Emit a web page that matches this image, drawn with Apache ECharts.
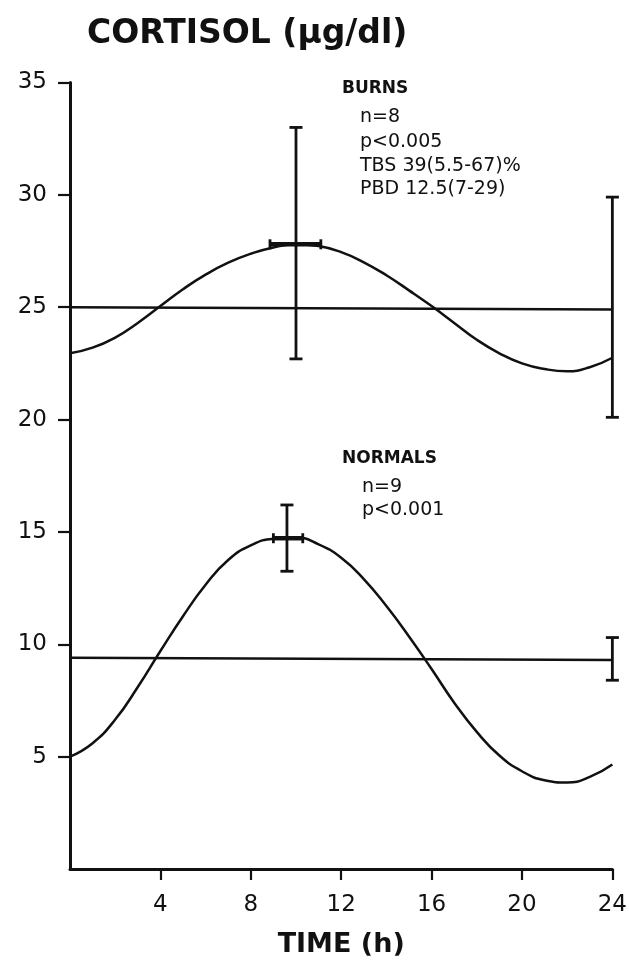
<!DOCTYPE html>
<html>
<head>
<meta charset="utf-8">
<script src="https://cdn.jsdelivr.net/npm/echarts@6/dist/echarts.min.js"></script>
<style>
  html, body { margin: 0; padding: 0; background: #fff; }
  #chart { width: 630px; height: 963px; }
</style>
</head>
<body>
<div id="chart"></div>
<script>
// hours of the day where the fitted curves were read
const hours = [0, 1, 2, 3, 4, 5, 6, 7, 8, 9, 10, 11, 12, 13, 14, 15, 16, 17, 18, 19, 20, 21, 22, 23, 24]

// fitted cosine curves (cortisol µg/dl)
const burnsFit = [22.95, 23.2, 23.65, 24.3, 25.05, 25.8, 26.45, 26.98, 27.38, 27.66, 27.8, 27.72, 27.45,
  27.0, 26.42, 25.75, 25.05, 24.3, 23.55, 22.95, 22.5, 22.25, 22.15, 22.33, 22.75]
const normalsFit = [5.0, 5.6, 6.65, 8.1, 9.7, 11.25, 12.65, 13.75, 14.4, 14.7, 14.75, 14.45, 13.85,
  12.9, 11.7, 10.35, 8.9, 7.4, 6.1, 5.05, 4.35, 3.95, 3.85, 4.1, 4.65]

// mesor lines: [start hour, end hour], [start value, end value]
const mesorHours = [0, 24]
const burnsMesor = [25.0, 24.9]
const normalsMesor = [9.4, 9.3]

// vertical error bars: [hour, low, high]
const verticalBars = [
  [10.0, 22.7, 33.0],
  [24, 20.1, 29.9],
  [9.6, 13.25, 16.2],
  [24, 8.4, 10.3]
]
// horizontal (acrophase) error bars: [value, from hour, to hour]
const horizontalBars = [
  [27.8, 8.85, 11.1],
  [14.72, 9.0, 10.3]
]

const xTicks = [4, 8, 12, 16, 20, 24]
const yTicks = [5, 10, 15, 20, 25, 30, 35]

const chart = echarts.init(document.getElementById('chart'))

const pairs = (xs, ys) => xs.map((x, i) => [x, ys[i]])
const ink = '#111'

const textLine = (text, left, y, size, bold) => ({
  type: 'text',
  left: left,
  top: y - size / 2 - 1,
  style: {
    text: text,
    fill: ink,
    font: (bold ? 'bold ' : '') + size + 'px "DejaVu Sans"'
  }
})

const option = {
  backgroundColor: '#fff',
  animation: false,
  title: {
    text: 'CORTISOL (µg/dl)',
    left: 82,
    top: 13,
    textStyle: { fontFamily: 'DejaVu Sans', fontWeight: 'bold', fontSize: 33, color: ink }
  },
  grid: { left: 70, right: 17, top: 82.5, bottom: 93.5 },
  xAxis: {
    type: 'value',
    min: 0,
    max: 24,
    interval: 4,
    name: 'TIME (h)',
    nameLocation: 'middle',
    nameGap: 62,
    nameTextStyle: { fontFamily: 'DejaVu Sans', fontWeight: 'bold', fontSize: 27, color: ink },
    axisLine: { lineStyle: { color: ink, width: 3 } },
    axisTick: { customValues: xTicks, length: 11, lineStyle: { color: ink, width: 2.2 } },
    axisLabel: { customValues: xTicks, margin: 25, fontFamily: 'DejaVu Sans', fontSize: 23, color: ink },
    splitLine: { show: false }
  },
  yAxis: {
    type: 'value',
    min: 0,
    max: 35,
    interval: 5,
    axisLine: { show: true, lineStyle: { color: ink, width: 3 } },
    axisTick: { show: true, customValues: yTicks, length: 12, lineStyle: { color: ink, width: 2.2 } },
    axisLabel: { customValues: yTicks, margin: 23, fontFamily: 'DejaVu Sans', fontSize: 23, color: ink },
    splitLine: { show: false }
  },
  graphic: [
    textLine('BURNS', 342, 90, 17, true),
    textLine('n=8', 360, 118, 19),
    textLine('p<0.005', 360, 143, 19),
    textLine('TBS 39(5.5-67)%', 360, 167, 19),
    textLine('PBD 12.5(7-29)', 360, 190, 19),
    textLine('NORMALS', 342, 460, 17, true),
    textLine('n=9', 362, 488, 19),
    textLine('p<0.001', 362, 511, 19)
  ],
  series: [
    {
      name: 'Burns fit',
      type: 'line',
      data: pairs(hours, burnsFit),
      smooth: true,
      symbol: 'none',
      lineStyle: { color: ink, width: 2.5 }
    },
    {
      name: 'Normals fit',
      type: 'line',
      data: pairs(hours, normalsFit),
      smooth: true,
      symbol: 'none',
      lineStyle: { color: ink, width: 2.5 }
    },
    {
      name: 'Burns mesor',
      type: 'line',
      data: pairs(mesorHours, burnsMesor),
      symbol: 'none',
      lineStyle: { color: ink, width: 2.6 }
    },
    {
      name: 'Normals mesor',
      type: 'line',
      data: pairs(mesorHours, normalsMesor),
      symbol: 'none',
      lineStyle: { color: ink, width: 2.6 }
    },
    {
      name: 'Amplitude bars',
      type: 'custom',
      data: verticalBars,
      clip: false,
      renderItem: (params, api) => {
        const lo = api.coord([api.value(0), api.value(1)])
        const hi = api.coord([api.value(0), api.value(2)])
        const cap = 6.5
        const style = { stroke: ink, lineWidth: 2.8 }
        return {
          type: 'group',
          children: [
            { type: 'line', shape: { x1: lo[0], y1: lo[1], x2: hi[0], y2: hi[1] }, style },
            { type: 'line', shape: { x1: lo[0] - cap, y1: lo[1], x2: lo[0] + cap, y2: lo[1] }, style },
            { type: 'line', shape: { x1: hi[0] - cap, y1: hi[1], x2: hi[0] + cap, y2: hi[1] }, style }
          ]
        }
      }
    },
    {
      name: 'Acrophase bars',
      type: 'custom',
      data: horizontalBars,
      clip: false,
      renderItem: (params, api) => {
        const a = api.coord([api.value(1), api.value(0)])
        const b = api.coord([api.value(2), api.value(0)])
        const cap = 5
        const thin = { stroke: ink, lineWidth: 2.8 }
        return {
          type: 'group',
          children: [
            { type: 'line', shape: { x1: a[0], y1: a[1], x2: b[0], y2: b[1] }, style: { stroke: ink, lineWidth: 4.5 } },
            { type: 'line', shape: { x1: a[0], y1: a[1] - cap, x2: a[0], y2: a[1] + cap }, style: thin },
            { type: 'line', shape: { x1: b[0], y1: b[1] - cap, x2: b[0], y2: b[1] + cap }, style: thin }
          ]
        }
      }
    }
  ]
}

chart.setOption(option)
window.addEventListener('resize', () => chart.resize())
</script>
</body>
</html>
